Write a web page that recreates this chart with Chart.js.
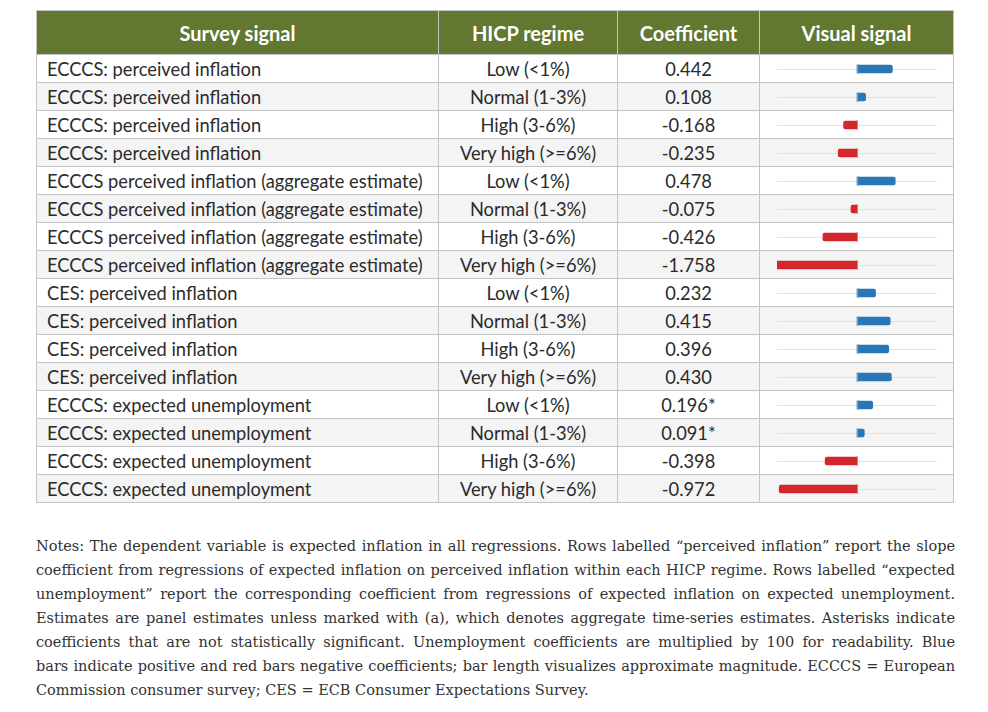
<!DOCTYPE html>
<html>
<head>
<meta charset="utf-8">
<script src="https://cdn.jsdelivr.net/npm/chart.js@4.4.1/dist/chart.umd.min.js"></script>
<style>
  html, body { margin: 0; padding: 0; background: #fff; }
  body { width: 988px; height: 712px; position: relative; overflow: hidden; }
  #wrap { position: absolute; left: 36px; top: 10px; width: 917px; }
  table { border-collapse: collapse; table-layout: fixed; width: 917px; font-family: Lato, sans-serif; font-size: 18.3px; color: #2b2b2b; }
  th { background: #627830; color: #fff; font-weight: bold; font-size: 20px; height: 43px; border: 1px solid #c4c4c4; padding: 0; }
  td { height: 27px; border: 1px solid #c4c4c4; padding: 0; text-align: center; white-space: nowrap; }
  td.sig { text-align: left; padding-left: 10px; }
  tbody tr:nth-child(even) td { background: #f4f4f4; }
  #chartBox { position: absolute; }
  #notes { position: absolute; left: 36px; top: 534px; width: 919px; font-family: "DejaVu Serif", serif; font-size: 14.5px; color: #333; line-height: 24px; }
  #notes div { white-space: nowrap; text-align: justify; text-align-last: justify; }
  #notes div.last { text-align-last: left; }
</style>
</head>
<body>
<div id="wrap">
  <table id="tbl">
    <colgroup><col style="width:402px"><col style="width:179px"><col style="width:142px"><col style="width:194px"></colgroup>
    <thead><tr><th>Survey signal</th><th>HICP regime</th><th>Coefficient</th><th>Visual signal</th></tr></thead>
    <tbody id="body"></tbody>
  </table>
</div>
<div id="chartBox"><canvas id="bars"></canvas></div>
<div id="notes">
  <div>Notes: The dependent variable is expected inflation in all regressions. Rows labelled “perceived inflation” report the slope</div>
  <div>coefficient from regressions of expected inflation on perceived inflation within each HICP regime. Rows labelled “expected</div>
  <div>unemployment” report the corresponding coefficient from regressions of expected inflation on expected unemployment.</div>
  <div>Estimates are panel estimates unless marked with (a), which denotes aggregate time-series estimates. Asterisks indicate</div>
  <div>coefficients that are not statistically significant. Unemployment coefficients are multiplied by 100 for readability. Blue</div>
  <div>bars indicate positive and red bars negative coefficients; bar length visualizes approximate magnitude. ECCCS = European</div>
  <div class="last">Commission consumer survey; CES = ECB Consumer Expectations Survey.</div>
</div>
<script>
// table rows
const surveySignals = [
  'ECCCS: perceived inflation', 'ECCCS: perceived inflation', 'ECCCS: perceived inflation', 'ECCCS: perceived inflation',
  'ECCCS perceived inflation (aggregate estimate)', 'ECCCS perceived inflation (aggregate estimate)',
  'ECCCS perceived inflation (aggregate estimate)', 'ECCCS perceived inflation (aggregate estimate)',
  'CES: perceived inflation', 'CES: perceived inflation', 'CES: perceived inflation', 'CES: perceived inflation',
  'ECCCS: expected unemployment', 'ECCCS: expected unemployment', 'ECCCS: expected unemployment', 'ECCCS: expected unemployment'
];
const hicpRegimes = [
  'Low (<1%)', 'Normal (1-3%)', 'High (3-6%)', 'Very high (>=6%)',
  'Low (<1%)', 'Normal (1-3%)', 'High (3-6%)', 'Very high (>=6%)',
  'Low (<1%)', 'Normal (1-3%)', 'High (3-6%)', 'Very high (>=6%)',
  'Low (<1%)', 'Normal (1-3%)', 'High (3-6%)', 'Very high (>=6%)'
];
const coefficients = [
  0.442, 0.108, -0.168, -0.235,
  0.478, -0.075, -0.426, -1.758,
  0.232, 0.415, 0.396, 0.430,
  0.196, 0.091, -0.398, -0.972
];
const coefficientMarks = ['', '', '', '', '', '', '', '', '', '', '', '', '*', '*', '', ''];
// visual signal axis range
const axisMin = -1;
const axisMax = 1;

const tbody = document.getElementById('body');
surveySignals.forEach((s, i) => {
  const tr = document.createElement('tr');
  tr.innerHTML = '<td class="sig"></td><td></td><td></td><td></td>';
  tr.children[0].textContent = s;
  tr.children[1].textContent = hicpRegimes[i];
  tr.children[2].textContent = coefficients[i].toFixed(3) + coefficientMarks[i];
  tbody.appendChild(tr);
});

// place the chart over the "Visual signal" column
const rows = tbody.querySelectorAll('tr');
const firstCell = rows[0].children[3].getBoundingClientRect();
const lastCell = rows[rows.length - 1].children[3].getBoundingClientRect();
const box = document.getElementById('chartBox');
const padL = 17, padR = 17;
box.style.left = (firstCell.left + padL) + 'px';
box.style.top = firstCell.top + 'px';
const w = Math.round(firstCell.width - padL - padR);
const h = Math.round(lastCell.bottom - firstCell.top);
box.style.width = w + 'px';
box.style.height = h + 'px';
const canvas = document.getElementById('bars');
canvas.style.width = w + 'px';
canvas.style.height = h + 'px';

// track lines and zero ticks per row
const rowGuides = {
  id: 'rowGuides',
  beforeDatasetsDraw(chart) {
    const { ctx, chartArea, scales } = chart;
    ctx.save();
    ctx.lineWidth = 1;
    ctx.strokeStyle = '#e2e2e2';
    coefficients.forEach((v, i) => {
      const y = Math.round(scales.y.getPixelForValue(i)) + 0.5;
      ctx.beginPath();
      ctx.moveTo(chartArea.left, y);
      ctx.lineTo(chartArea.right, y);
      ctx.stroke();
    });
    ctx.restore();
  },
  afterDatasetsDraw(chart) {
    const { ctx, scales } = chart;
    const x0 = Math.round(scales.x.getPixelForValue(0)) + 0.5;
    ctx.save();
    ctx.strokeStyle = '#9a9a9a';
    ctx.lineWidth = 1;
    coefficients.forEach((v, i) => {
      const y = scales.y.getPixelForValue(i);
      ctx.beginPath();
      ctx.moveTo(x0, y - 5);
      ctx.lineTo(x0, y + 5);
      ctx.stroke();
    });
    ctx.restore();
  }
};

new Chart(canvas, {
  type: 'bar',
  data: {
    labels: surveySignals.map((s, i) => s + ' / ' + hicpRegimes[i]),
    datasets: [{
      data: coefficients,
      backgroundColor: coefficients.map(v => v >= 0 ? '#2a77b8' : '#d4262d'),
      barThickness: 8,
      borderRadius: 2
    }]
  },
  options: {
    indexAxis: 'y',
    responsive: false,
    animation: false,
    layout: { padding: 0 },
    plugins: { legend: { display: false }, tooltip: { enabled: false } },
    scales: {
      x: { display: false, min: axisMin, max: axisMax },
      y: { display: false }
    }
  },
  plugins: [rowGuides]
});
</script>
</body>
</html>
